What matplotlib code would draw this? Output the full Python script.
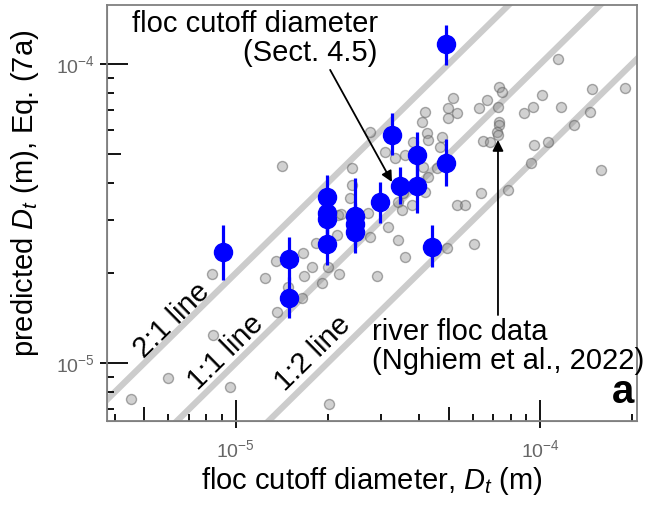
import numpy as np
import matplotlib
matplotlib.use("Agg")
import matplotlib.pyplot as plt
from matplotlib.ticker import FixedLocator, LogLocator, NullFormatter, LogFormatterSciNotation

# font kurang lebih seperti Arial
plt.rcParams['font.family'] = ['Liberation Sans', 'DejaVu Sans']
plt.rcParams['mathtext.fontset'] = 'custom'
plt.rcParams['mathtext.rm'] = 'Liberation Sans'
plt.rcParams['mathtext.it'] = 'Liberation Sans:italic'
plt.rcParams['mathtext.bf'] = 'Liberation Sans:bold'

um = 1e-6  # semua nilai dalam mikrometer

# data sungai (abu-abu): observed Dt dan predicted Dt
river_obs = [114.6, 190, 148, 146, 129, 117, 101, 94.8, 88.6, 73.3, 75.0, 72.7, 66.9, 63.0,
             73.3, 73.3, 72.2, 72.7, 64.9, 68.5, 95.5, 106, 93.4, 159, 64.0, 78.5,
             51.7, 49.8, 53.3, 49.8, 41.9, 40.9, 42.5, 42.8, 47.6, 46.9, 38.2, 27.6,
             30.9, 33.3, 36.0, 24.1, 24.1, 23.7, 21.7, 14.2, 41.2, 42.8, 45.8, 41.9,
             35.4, 34.1, 53.3, 56.7, 8.34, 13.5, 12.5, 13.6, 16.6, 17.8, 16.7, 16.5,
             14.8, 20.1, 19.2, 21.8, 21.5, 18.3, 22.2, 27.2, 31.6, 35.2, 37.9, 27.6,
             34.1, 36.0, 29.1, 49.4, 60.7, 8.40, 5.98, 4.52, 9.56, 20.2]
river_pred = [103.9, 83.1, 82.5, 69.1, 62.5, 71.8, 78.8, 71.8, 68.6, 83.8, 80.6, 71.8, 75.8, 71.2,
              64.0, 62.5, 59.2, 57.9, 55.3, 54.8, 53.6, 54.8, 46.7, 44.2, 37.0, 37.9,
              77.0, 71.2, 68.6, 66.0, 69.1, 64.0, 58.8, 55.7, 57.0, 52.8, 54.8, 59.2,
              50.8, 48.5, 49.6, 44.9, 39.4, 35.6, 31.3, 45.6, 45.2, 41.9, 44.9, 37.3,
              37.0, 34.5, 33.8, 33.8, 19.9, 21.9, 19.2, 14.8, 23.3, 20.9, 19.5, 16.5,
              18.0, 20.9, 18.5, 19.9, 26.8, 25.2, 31.5, 31.8, 28.5, 32.5, 33.8, 26.4,
              25.8, 22.6, 19.5, 24.2, 25.0, 12.4, 8.91, 7.58, 8.31, 7.29]

# titik biru dengan error bar
lab_obs = [49.1, 32.6, 39.4, 49.1, 34.6, 39.4, 29.8, 44.1, 9.06, 14.9, 14.9,
           19.9, 19.9, 19.9, 19.9, 24.6, 24.6, 24.6]
lab_pred = [116.7, 57.9, 49.6, 46.7, 39.1, 39.1, 34.5, 24.4, 23.5, 22.3, 16.5,
            35.9, 31.8, 30.3, 25.0, 31.0, 29.2, 27.4]
lab_lo = [99.2, 49.6, 41.9, 39.1, 34.0, 31.8, 29.4, 20.9, 18.95, 18.8, 14.1,
          30.5, 27.0, 25.8, 21.3, 26.4, 24.8, 23.3]
lab_hi = [135, 68.6, 59.2, 56.1, 45.2, 46.3, 40.3, 28.9, 28.9, 26.4, 19.4,
          42.5, 37.4, 35.6, 29.4, 41.6, 34.3, 32.2]

ratios = [2.0, 1.0, 0.5]
ratio_labels = ['2:1 line', '1:1 line', '1:2 line']

x_lim = [3.77, 208]
y_lim = [6.40, 157.5]

river_obs = np.array(river_obs) * um
river_pred = np.array(river_pred) * um
lab_obs = np.array(lab_obs) * um
lab_pred = np.array(lab_pred) * um
lab_lo = np.array(lab_lo) * um
lab_hi = np.array(lab_hi) * um

fig = plt.figure(figsize=(6.5, 5.07), dpi=100)
ax = fig.add_axes([0.1646, 0.1696, 0.8154, 0.8205])
ax.set_xscale('log')
ax.set_yscale('log')

# garis 2:1, 1:1, 1:2
ref = np.array([1e-7, 1e-2])
for r in ratios:
    ax.plot(ref, r * ref, color='#cccccc', lw=4.5, zorder=1, solid_capstyle='butt')

ax.scatter(river_obs, river_pred, s=7.2**2, facecolor=(0.55, 0.55, 0.55, 0.4),
           edgecolor=(0.35, 0.35, 0.35, 0.5), lw=1.0, zorder=2)

ax.errorbar(lab_obs, lab_pred, yerr=[lab_pred - lab_lo, lab_hi - lab_pred], fmt='o',
            color='#0000ff', ms=13, elinewidth=2.3, capsize=0, zorder=3)

ax.set_xlim(x_lim[0] * um, x_lim[1] * um)
ax.set_ylim(y_lim[0] * um, y_lim[1] * um)

# tick: major ke dalam + keluar, minor ke dalam, angka 5 lebih panjang
for axis in [ax.xaxis, ax.yaxis]:
    axis.set_major_locator(FixedLocator([1e-5, 1e-4]))
    axis.set_major_formatter(LogFormatterSciNotation())
    axis.set_minor_locator(LogLocator(subs=(2, 3, 4, 6, 7, 8, 9)))
    axis.set_minor_formatter(NullFormatter())
ax.tick_params(which='major', direction='in', length=15, width=1.3, color='black',
               labelsize=14, labelcolor='#666666')
ax.tick_params(axis='x', which='major', pad=13)
ax.tick_params(axis='y', which='major', pad=9)
ax.tick_params(which='minor', direction='in', length=5, width=1.3, color='black')

sx = ax.secondary_xaxis('bottom')
sy = ax.secondary_yaxis('left')
for sa, axis in [(sx, sx.xaxis), (sy, sy.yaxis)]:
    axis.set_major_locator(FixedLocator([1e-5, 1e-4]))
    axis.set_minor_locator(FixedLocator([5e-6, 5e-5]))
    axis.set_major_formatter(NullFormatter())
    axis.set_minor_formatter(NullFormatter())
    sa.tick_params(which='major', direction='out', length=5, width=1.3, color='black')
    sa.tick_params(which='minor', direction='in', length=10, width=1.3, color='black')
    for sp in sa.spines.values():
        sp.set_color('#808080')

for sp in ax.spines.values():
    sp.set_color('#808080')
    sp.set_linewidth(1.3)

ax.set_xlabel('floc cutoff diameter, $D_t$ (m)', fontsize=21, labelpad=3)
ax.set_ylabel('predicted $D_t$ (m), Eq. (7a)', fontsize=21)
ax.yaxis.set_label_coords(-0.125, 0.548)

# label garis
ax.text(0.1226, 0.2428, ratio_labels[0], transform=ax.transAxes, fontsize=21,
        rotation=44.5, rotation_mode='anchor', ha='center', va='center')
ax.text(0.2245, 0.1659, ratio_labels[1], transform=ax.transAxes, fontsize=21,
        rotation=44.5, rotation_mode='anchor', ha='center', va='center')
ax.text(0.3887, 0.1635, ratio_labels[2], transform=ax.transAxes, fontsize=21,
        rotation=44.5, rotation_mode='anchor', ha='center', va='center')

# anotasi
ax.annotate('floc cutoff diameter\n(Sect. 4.5)', xy=(0.5377, 0.5745), xycoords='axes fraction',
            xytext=(0.511, 0.988), textcoords='axes fraction', ha='right', va='top',
            fontsize=21, linespacing=1.05,
            arrowprops=dict(arrowstyle='-|>', color='black', lw=1.3, mutation_scale=16,
                            shrinkA=0, shrinkB=0, relpos=(0.8, 0.0)))
ax.annotate('', xy=(0.7377, 0.6755), xycoords='axes fraction',
            xytext=(0.7377, 0.2548), textcoords='axes fraction',
            arrowprops=dict(arrowstyle='-|>', color='black', lw=1.3, mutation_scale=16,
                            shrinkA=0, shrinkB=0))
ax.text(0.5, 0.2476, 'river floc data\n(Nghiem et al., 2022)', transform=ax.transAxes,
        ha='left', va='top', fontsize=21, linespacing=1.05)
ax.text(0.995, 0.025, 'a', transform=ax.transAxes, ha='right', va='bottom',
        fontsize=29, fontweight='bold')

fig.savefig('out.png', dpi=100)
